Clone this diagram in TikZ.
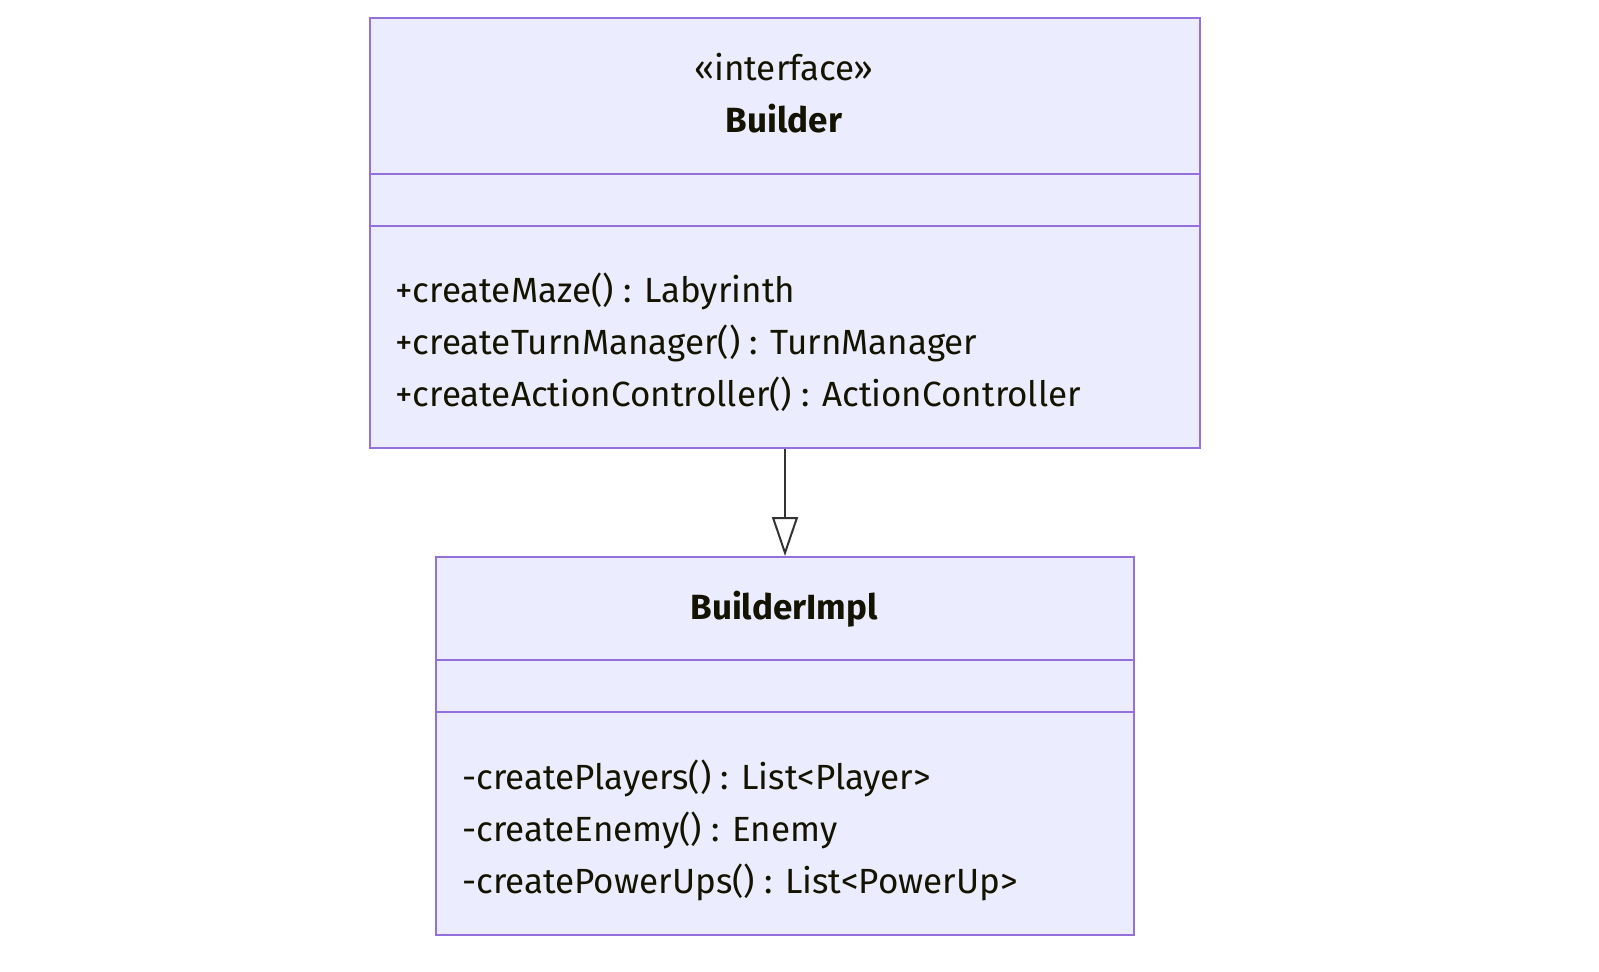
\documentclass[tikz,border=0pt]{standalone}
\usepackage{fontspec}
\setmainfont{Fira Sans}
\usetikzlibrary{arrows.meta}
\definecolor{cfill}{HTML}{ECECFF}
\definecolor{cline}{HTML}{9370DB}
\definecolor{ctext}{HTML}{131300}
\definecolor{carrow}{HTML}{333333}
\begin{document}
\begin{tikzpicture}[x=0.5pt,y=-0.5pt,
  classbox/.style={draw=cline, fill=cfill, line width=1pt, inner sep=0pt, anchor=north west},
  divider/.style={draw=cline, line width=1pt},
  txt/.style={text=ctext, inner sep=0pt, font=\fontsize{17.5}{21}\selectfont},
  member/.style={txt, anchor=base west},
  title/.style={txt, anchor=base, font=\fontsize{17.5}{21}\selectfont\bfseries},
  realize/.style={draw=carrow, line width=1pt, -{Triangle[open, length=19.5pt, width=13pt]}}]
\useasboundingbox (0,0) rectangle (1599,971);
% Builder
\node[classbox, minimum width=415pt, minimum height=215pt] (builder) at (369,17) {};
\draw[divider] (369,174) -- (1199,174);
\draw[divider] (369,226) -- (1199,226);
\node[txt, anchor=base] (stereo) at (784,80) {«interface»};
\node[title] (bname) at (784,132) {Builder};
\node[member] (m1) at (395,302) {+createMaze() : Labyrinth};
\node[member] (m2) at (395,354) {+createTurnManager() : TurnManager};
\node[member] (m3) at (395,406) {+createActionController() : ActionController};
% BuilderImpl
\node[classbox, minimum width=349pt, minimum height=189pt] (impl) at (435,556) {};
\draw[divider] (435,660) -- (1133,660);
\draw[divider] (435,712) -- (1133,712);
\node[title] (iname) at (784,619) {BuilderImpl};
\node[member] (p1) at (462,789) {-createPlayers() : List<Player>};
\node[member] (p2) at (462,841) {-createEnemy() : Enemy};
\node[member] (p3) at (462,893) {-createPowerUps() : List<PowerUp>};
% realization
\draw[realize] (builder.south) -- (impl.north);
\end{tikzpicture}
\end{document}
